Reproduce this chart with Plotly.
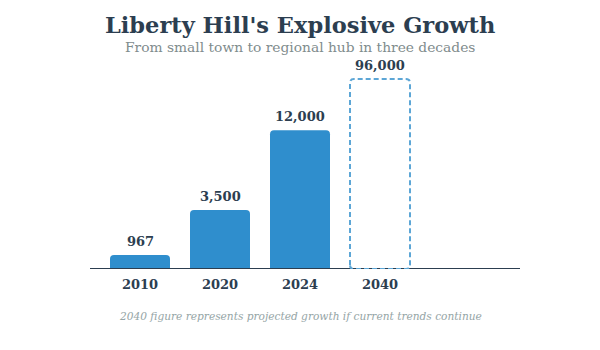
import plotly.graph_objects as go

years = ["2010", "2020", "2024", "2040"]
population = [967, 3500, 12000, 96000]
# relative displayed bar height (percent of tallest), as drawn in the original
display_height = [7.4, 31, 73, 100]
projected = [False, False, False, True]

TITLE = "Liberty Hill's Explosive Growth"
SUBTITLE = "From small town to regional hub in three decades"
NOTE = "2040 figure represents projected growth if current trends continue"

FONT = "DejaVu Serif"
DARK = "#2c3e50"
BLUE = "#2f8ecd"
DASH = "#5ca6d6"

W, H = 600, 350
ML, MR, MT, MB = 90, 80, 60, 81
plot_h = H - MT - MB
X_RANGE = [-0.625, 4.75]
Y_RANGE = [0, 110]
px_per_x = (W - ML - MR) / (X_RANGE[1] - X_RANGE[0])
px_per_y = plot_h / (Y_RANGE[1] - Y_RANGE[0])

x = list(range(len(years)))
bar_w = 0.75

fig = go.Figure()
fig.add_trace(go.Bar(
    x=x, y=display_height, width=bar_w,
    marker=dict(color=[("rgba(0,0,0,0)" if p else BLUE) for p in projected],
                line=dict(width=0)),
    hoverinfo="skip",
))

shapes = [dict(type="line", xref="paper", yref="y", x0=0, x1=1, y0=0, y1=0,
               line=dict(color=DARK, width=2), layer="above")]
rx, ry = 4 / px_per_x, 4 / px_per_y
for xi, h, p in zip(x, display_height, projected):
    if p:
        x0, x1 = xi - bar_w / 2, xi + bar_w / 2
        path = (f"M {x0},{ry} L {x0},{h-ry} Q {x0},{h} {x0+rx},{h} "
                f"L {x1-rx},{h} Q {x1},{h} {x1},{h-ry} L {x1},{ry} "
                f"Q {x1},0 {x1-rx},0 L {x0+rx},0 Q {x0},0 {x0},{ry} Z")
        shapes.append(dict(type="path", xref="x", yref="y", path=path,
                           line=dict(color=DASH, width=2, dash="5px,3px"),
                           fillcolor="rgba(0,0,0,0)", layer="above"))

def py(pix):
    return (H - MB - pix) / plot_h

annotations = []
for xi, h, v in zip(x, display_height, population):
    annotations.append(dict(x=xi, y=h, xref="x", yref="y", text=f"<b>{v:,}</b>",
                            showarrow=False, yanchor="bottom", yshift=4,
                            font=dict(family=FONT, size=13, color=DARK)))
# paper x=0.5 is at pixel 305; page center is 300
annotations += [
    dict(text=f"<b>{TITLE}</b>", xref="paper", yref="paper", x=0.5, y=py(25),
         xshift=-5, xanchor="center", yanchor="middle", showarrow=False,
         font=dict(family=FONT, size=22.5, color=DARK)),
    dict(text=SUBTITLE, xref="paper", yref="paper", x=0.5, y=py(47),
         xshift=-5, xanchor="center", yanchor="middle", showarrow=False,
         font=dict(family=FONT, size=13.8, color="#7f8c8d")),
    dict(text=f"<i>{NOTE}</i>", xref="paper", yref="paper", x=0.5, y=py(316),
         xshift=-5, xanchor="center", yanchor="middle", showarrow=False,
         font=dict(family=FONT, size=10.6, color="#95a5a6")),
]

fig.update_layout(
    width=W, height=H,
    margin=dict(l=ML, r=MR, t=MT, b=MB),
    paper_bgcolor="white", plot_bgcolor="white",
    showlegend=False,
    barcornerradius=4,
    xaxis=dict(range=X_RANGE, tickvals=x,
               ticktext=[f"<b>{y}</b>" for y in years],
               tickfont=dict(family=FONT, size=13, color=DARK),
               showgrid=False, zeroline=False, showline=False,
               ticks="outside", ticklen=3, tickcolor="rgba(0,0,0,0)", fixedrange=True),
    yaxis=dict(range=Y_RANGE, visible=False, fixedrange=True),
    shapes=shapes,
    annotations=annotations,
)

fig.write_html("out.html")
